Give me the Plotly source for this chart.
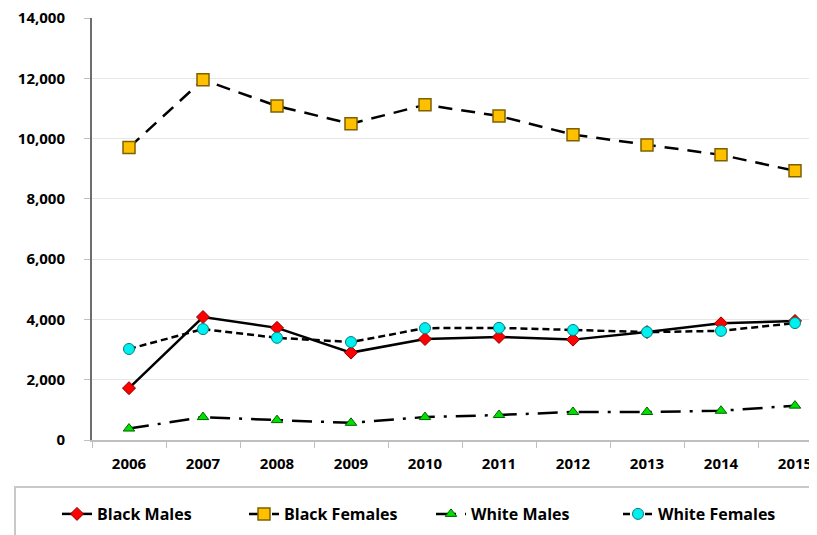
import plotly.graph_objects as go

years = ["2006", "2007", "2008", "2009", "2010", "2011", "2012", "2013", "2014", "2015"]
black_males = [1720, 4080, 3720, 2900, 3350, 3420, 3330, 3580, 3870, 3950]
black_females = [9700, 11950, 11080, 10490, 11120, 10750, 10130, 9790, 9460, 8930]
white_males = [380, 760, 660, 570, 760, 830, 930, 930, 970, 1140]
white_females = [3020, 3680, 3390, 3250, 3710, 3720, 3650, 3580, 3620, 3880]
y_ticks = [0, 2000, 4000, 6000, 8000, 10000, 12000, 14000]

FONT = "Open Sans"

fig = go.Figure()
fig.add_trace(go.Scatter(
    x=years, y=black_males, name="Black Males", mode="lines+markers",
    line=dict(color="black", width=2.5, dash="solid"),
    marker=dict(symbol="diamond", size=10, color="#ff0000", line=dict(color="#8b0000", width=1))))
fig.add_trace(go.Scatter(
    x=years, y=black_females, name="Black Females", mode="lines+markers",
    line=dict(color="black", width=2.5, dash="14px,9px"),
    marker=dict(symbol="square", size=12, color="#ffc000", line=dict(color="#7f6000", width=1.5))))
fig.add_trace(go.Scatter(
    x=years, y=white_males, name="White Males", mode="lines+markers",
    line=dict(color="black", width=2.5, dash="20px,9px,3px,9px"),
    marker=dict(symbol="triangle-up", size=10, color="#00e000", line=dict(color="#006000", width=1))))
fig.add_trace(go.Scatter(
    x=years, y=white_females, name="White Females", mode="lines+markers",
    line=dict(color="black", width=2.5, dash="7px,4px"),
    marker=dict(symbol="circle", size=11, color="#00f0f0", line=dict(color="#008080", width=1))))

# page body has an 8px offset, compensated in the margins
L, T, B = 84, 10, 103
PW = 817 - L
PH = 535 - T - B

fig.update_layout(
    width=817, height=535,
    margin=dict(l=L, r=0, t=T, b=B, autoexpand=False),
    paper_bgcolor="white", plot_bgcolor="white",
    font=dict(family=FONT, size=15, color="black", weight="bold"),
    showlegend=True,
    legend=dict(orientation="h", x=(49 - L) / PW, y=(432 - 506) / PH, xanchor="left", yanchor="middle",
                entrywidth=142, entrywidthmode="pixels",
                font=dict(family=FONT, size=16, color="black", weight="bold"),
                bgcolor="rgba(0,0,0,0)", itemwidth=30),
    xaxis=dict(type="category", range=[-0.5, -0.5 + PW / 74.0], showgrid=False,
               showline=True, linecolor="#bfbfbf", linewidth=2,
               ticks="outside", tickson="boundaries", ticklen=6, tickcolor="#bfbfbf",
               ticklabelstandoff=9, ticklabeloverflow="allow",
               tickfont=dict(family=FONT, size=15, color="black", weight="bold"), fixedrange=True),
    yaxis=dict(range=[0, 14000], tickvals=y_ticks, tickformat=",d",
               showgrid=True, gridcolor="#e6e6e6", gridwidth=1,
               showline=True, linecolor="#6e6e6e", linewidth=2,
               ticks="outside", ticklen=6, tickcolor="#bfbfbf",
               ticklabelstandoff=16, ticklabeloverflow="allow",
               tickfont=dict(family=FONT, size=15, color="black", weight="bold"),
               zeroline=False, fixedrange=True),
)

# legend frame (partially outside the visible area, like the reference)
fig.add_shape(type="rect", xref="paper", yref="paper",
              x0=(7 - L) / PW, x1=1.05, y0=(432 - 560) / PH, y1=(432 - 479) / PH,
              line=dict(color="#c8c8c8", width=2), fillcolor="rgba(0,0,0,0)", layer="below")

fig.write_html("out.html")
